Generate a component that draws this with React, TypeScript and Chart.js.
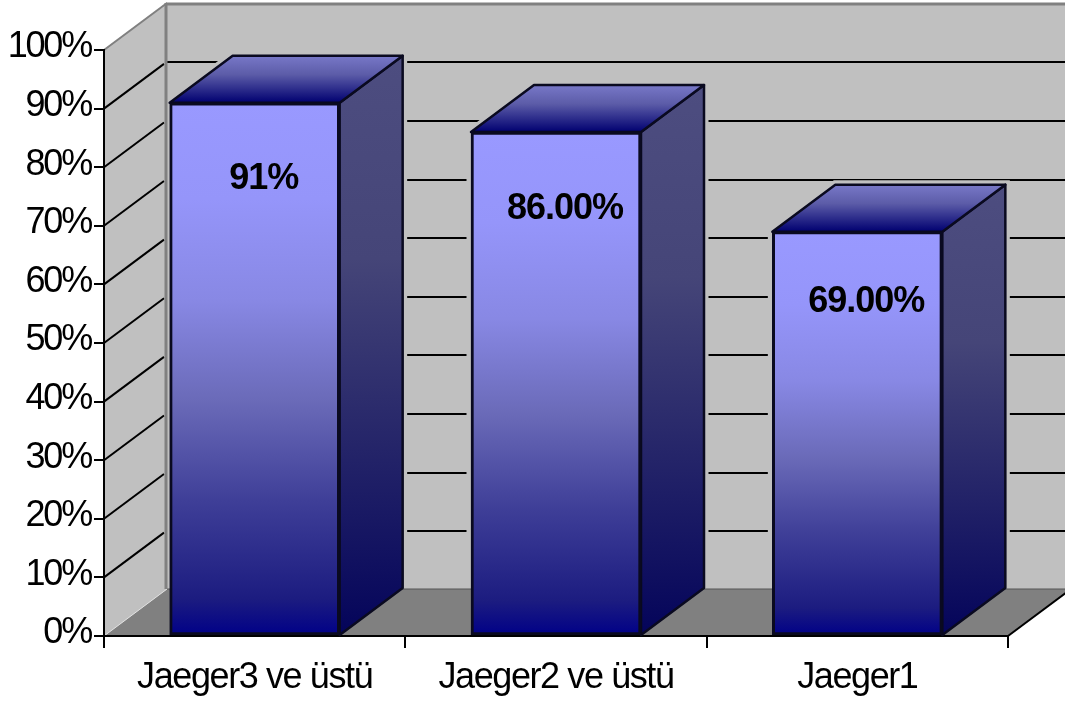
import React, { useEffect, useRef } from "react";
import { Chart, registerables } from "chart.js";

Chart.register(...registerables);

const categories = ["Jaeger3 ve üstü", "Jaeger2 ve üstü", "Jaeger1"];
const shares = [91, 86, 69];
const shareLabels = ["91%", "86.00%", "69.00%"];

// Oblique projection used for the box depth, and label placement on the front faces.
const DEPTH_X = 63;
const DEPTH_Y = -47;
const LABEL_SHIFT_X = 9;
const LABEL_DROP = [76, 77, 70];

const FONT = '"Liberation Sans", Arial, sans-serif';
const WALL = "#c0c0c0";
const FLOOR = "#808080";
const EDGE = "#0a0a20";

type Pt = [number, number];

function poly(ctx: CanvasRenderingContext2D, pts: Pt[]) {
  ctx.beginPath();
  pts.forEach(([x, y], i) => (i ? ctx.lineTo(x, y) : ctx.moveTo(x, y)));
  ctx.closePath();
}

function line(ctx: CanvasRenderingContext2D, a: Pt, b: Pt, color: string, width: number) {
  ctx.strokeStyle = color;
  ctx.lineWidth = width;
  ctx.beginPath();
  ctx.moveTo(a[0], a[1]);
  ctx.lineTo(b[0], b[1]);
  ctx.stroke();
}

function vGradient(ctx: CanvasRenderingContext2D, y0: number, y1: number, stops: [number, string][]) {
  const g = ctx.createLinearGradient(0, y0, 0, y1);
  stops.forEach(([o, c]) => g.addColorStop(o, c));
  return g;
}

// Fixes the axis band size and tightens the tracking of its tick labels.
function fitAxis(prop: "width" | "height", size: number, tracking: string) {
  return (s: any) => {
    s[prop] = size;
    if (!s.__tracked) {
      s.__tracked = true;
      const drawLabels = s.drawLabels.bind(s);
      s.drawLabels = (area: any) => {
        s.ctx.save();
        s.ctx.letterSpacing = tracking;
        drawLabels(area);
        s.ctx.restore();
      };
    }
  };
}

// Walls, floor and the wall gridlines, painted before the axes.
const roomPlugin = {
  id: "room",
  beforeDraw(chart: any) {
    const { ctx, chartArea: a, scales } = chart;
    const y = scales.y;
    ctx.save();
    const backL = a.left + DEPTH_X;
    const backR = a.right + DEPTH_X;
    const backTop = a.top + DEPTH_Y;
    const backBottom = a.bottom + DEPTH_Y;

    ctx.fillStyle = WALL;
    ctx.fillRect(backL, backTop, backR - backL, backBottom - backTop);

    for (let v = 10; v < 100; v += 10) {
      const py = Math.round(y.getPixelForValue(v) + DEPTH_Y + 0.8);
      line(ctx, [backL, py], [backR, py], "#000", 2);
    }

    // A wall-coloured halo keeps the gridlines from touching the boxes.
    const meta = chart.getDatasetMeta(0);
    ctx.save();
    ctx.beginPath();
    ctx.rect(backL, backTop, backR - backL, backBottom - backTop);
    ctx.clip();
    meta.data.forEach((bar: any) => {
      const l = bar.x - bar.width / 2;
      const r = bar.x + bar.width / 2;
      poly(ctx, [
        [l, bar.y],
        [l + DEPTH_X, bar.y + DEPTH_Y],
        [r + DEPTH_X, bar.y + DEPTH_Y],
        [r + DEPTH_X, bar.base + DEPTH_Y],
        [r, bar.base],
        [l, bar.base],
      ]);
      ctx.strokeStyle = WALL;
      ctx.lineWidth = 9;
      ctx.stroke();
    });
    ctx.restore();

    // Side wall
    poly(ctx, [
      [a.left, a.top],
      [backL, backTop],
      [backL, backBottom],
      [a.left, a.bottom],
    ]);
    ctx.fillStyle = WALL;
    ctx.fill();
    for (let v = 10; v < 100; v += 10) {
      const py = y.getPixelForValue(v);
      line(ctx, [a.left, py], [backL - 3, py + DEPTH_Y * ((DEPTH_X - 3) / DEPTH_X)], "#000", 2);
    }

    // Floor
    poly(ctx, [
      [a.left, a.bottom],
      [backL, backBottom],
      [backR, backBottom],
      [a.right, a.bottom],
    ]);
    ctx.fillStyle = FLOOR;
    ctx.fill();
    line(ctx, [backL, backBottom], [backR, backBottom], "#555", 1);
    line(ctx, [a.left, a.bottom], [backL, backBottom], "#e0e0e0", 1);
    line(ctx, [a.right, a.bottom], [backR, backBottom], "#000", 2);

    // Upper and inner wall edges
    line(ctx, [backL - 1, backTop + 1], [backR, backTop + 1], FLOOR, 3);
    line(ctx, [a.left, a.top], [backL, backTop], FLOOR, 2);
    line(ctx, [backL - 1, backTop], [backL - 1, backBottom], FLOOR, 3);
    ctx.restore();
  },
  // Top and side faces of each box, taken from the bar elements.
  beforeDatasetsDraw(chart: any) {
    const { ctx } = chart;
    const meta = chart.getDatasetMeta(0);
    ctx.save();
    ctx.lineJoin = "round";
    meta.data.forEach((bar: any) => {
      const l = bar.x - bar.width / 2;
      const r = bar.x + bar.width / 2;

      poly(ctx, [
        [r, bar.y],
        [r + DEPTH_X, bar.y + DEPTH_Y],
        [r + DEPTH_X, bar.base + DEPTH_Y],
        [r, bar.base],
      ]);
      ctx.fillStyle = vGradient(ctx, bar.y + DEPTH_Y, bar.base, [
        [0, "#4d4d80"],
        [0.35, "#454578"],
        [1, "#04045a"],
      ]);
      ctx.fill();
      ctx.strokeStyle = EDGE;
      ctx.lineWidth = 2.5;
      ctx.stroke();

      poly(ctx, [
        [l, bar.y],
        [l + DEPTH_X, bar.y + DEPTH_Y],
        [r + DEPTH_X, bar.y + DEPTH_Y],
        [r, bar.y],
      ]);
      ctx.fillStyle = vGradient(ctx, bar.y + DEPTH_Y, bar.y, [
        [0, "#7878c8"],
        [0.4, "#5c5ca8"],
        [1, "#000070"],
      ]);
      ctx.fill();
      ctx.stroke();
    });
    ctx.restore();
  },
  // Value captions printed on the front faces.
  afterDatasetsDraw(chart: any) {
    const { ctx } = chart;
    const meta = chart.getDatasetMeta(0);
    ctx.save();
    ctx.letterSpacing = "-1px";
    ctx.font = `bold 36px ${FONT}`;
    ctx.fillStyle = "#000";
    ctx.textAlign = "center";
    ctx.textBaseline = "middle";
    meta.data.forEach((bar: any, i: number) => {
      ctx.fillText(shareLabels[i], bar.x + LABEL_SHIFT_X, bar.y + LABEL_DROP[i]);
    });
    ctx.restore();
  },
};

export default function App() {
  const ref = useRef<HTMLCanvasElement>(null);

  useEffect(() => {
    const chart = new Chart(ref.current!, {
      type: "bar",
      data: {
        labels: categories,
        datasets: [
          {
            data: shares,
            barThickness: 170,
            borderColor: EDGE,
            borderWidth: 3,
            borderSkipped: false,
            backgroundColor: (c: any) => {
              const { chart: ch, raw } = c;
              const scale = ch.scales?.y;
              const top = scale && raw !== undefined ? scale.getPixelForValue(raw) : NaN;
              const bottom = scale ? scale.getPixelForValue(0) : NaN;
              if (!Number.isFinite(top) || !Number.isFinite(bottom)) return "#9999ff";
              return vGradient(ch.ctx, top, bottom, [
                [0, "#9999ff"],
                [0.18, "#9595fa"],
                [0.37, "#8888e4"],
                [0.56, "#6a6ab8"],
                [0.745, "#3f3f98"],
                [0.93, "#1c1c80"],
                [1, "#000088"],
              ]);
            },
          },
        ],
      },
      options: {
        responsive: false,
        animation: false,
        events: [],
        layout: { padding: { top: 50, right: 57, left: 0, bottom: 0 } },
        plugins: { legend: { display: false }, tooltip: { enabled: false }, title: { display: false } },
        scales: {
          x: {
            afterFit: fitAxis("height", 67, "-1.4px"),
            grid: {
              offset: true,
              drawOnChartArea: false,
              color: "#000",
              tickColor: "#000",
              tickLength: 12,
              lineWidth: 2,
            },
            border: { color: "#000", width: 2 },
            ticks: {
              color: "#000",
              padding: 8,
              maxRotation: 0,
              autoSkip: false,
              font: { family: FONT, size: 36 },
            },
          },
          y: {
            min: 0,
            max: 100,
            afterFit: fitAxis("width", 104, "-2.2px"),
            grid: {
              drawOnChartArea: false,
              color: "#000",
              tickColor: "#000",
              tickLength: 10,
              lineWidth: 2,
            },
            border: { color: "#000", width: 2 },
            ticks: {
              color: "#000",
              stepSize: 10,
              padding: 3,
              // A blank second line lifts each label slightly above its tick.
              callback: (v: any) => [`${v}%`, ""],
              font: { family: FONT, size: 36, lineHeight: "5px" },
            },
          },
        },
      },
      plugins: [roomPlugin],
    } as any);
    return () => chart.destroy();
  }, []);

  return (
    <canvas
      ref={ref}
      width={1065}
      height={703}
      style={{ position: "absolute", left: 0, top: 0, display: "block" }}
    />
  );
}
